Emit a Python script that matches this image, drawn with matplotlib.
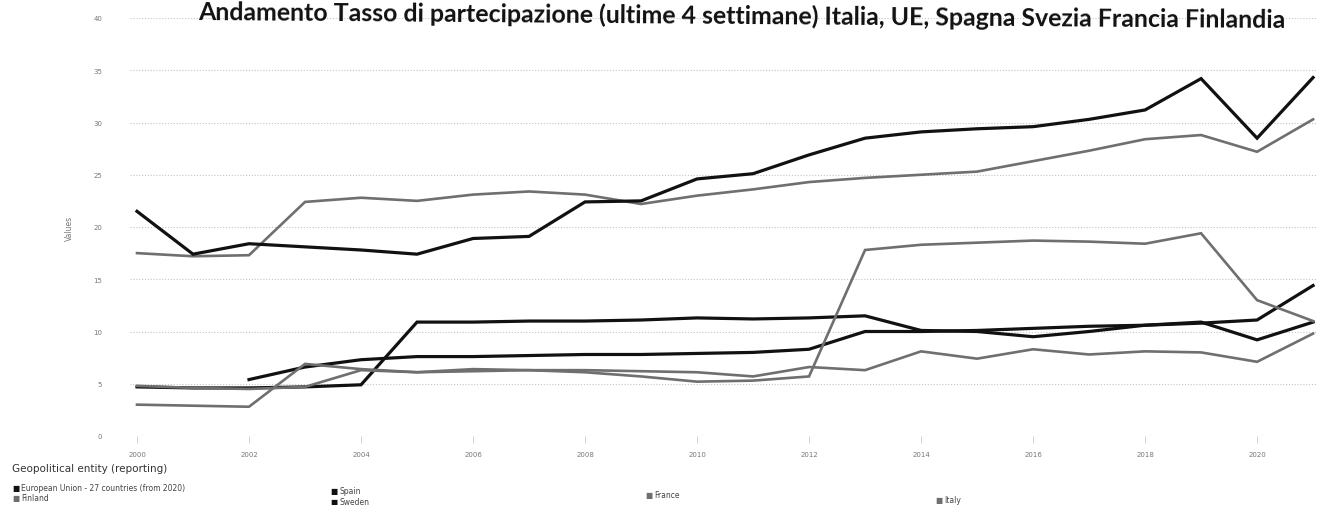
import matplotlib
matplotlib.use("Agg")
import matplotlib.pyplot as plt
import numpy as np

# Dati: tasso di partecipazione (ultime 4 settimane)
anni = list(range(2000, 2022))
ue = [np.nan, np.nan, 5.4, 6.6, 7.3, 7.6, 7.6, 7.7, 7.8, 7.8, 7.9, 8.0,
      8.3, 10.0, 10.0, 10.1, 10.3, 10.5, 10.6, 10.9, 9.2, 10.9]
finlandia = [17.5, 17.2, 17.3, 22.4, 22.8, 22.5, 23.1, 23.4, 23.1, 22.2, 23.0,
             23.6, 24.3, 24.7, 25.0, 25.3, 26.3, 27.3, 28.4, 28.8, 27.2, 30.3]
spagna = [4.7, 4.6, 4.6, 4.7, 4.9, 10.9, 10.9, 11.0, 11.0, 11.1, 11.3, 11.2,
          11.3, 11.5, 10.1, 10.0, 9.5, 10.0, 10.6, 10.8, 11.1, 14.4]
svezia = [21.5, 17.4, 18.4, 18.1, 17.8, 17.4, 18.9, 19.1, 22.4, 22.5, 24.6,
          25.1, 26.9, 28.5, 29.1, 29.4, 29.6, 30.3, 31.2, 34.2, 28.5, 34.3]
francia = [3.0, 2.9, 2.8, 6.9, 6.4, 6.1, 6.4, 6.3, 6.1, 5.7, 5.2, 5.3, 5.7,
           17.8, 18.3, 18.5, 18.7, 18.6, 18.4, 19.4, 13.0, 11.0]
italia = [4.8, 4.6, 4.5, 4.7, 6.3, 6.1, 6.2, 6.3, 6.3, 6.2, 6.1, 5.7, 6.6,
          6.3, 8.1, 7.4, 8.3, 7.8, 8.1, 8.0, 7.1, 9.8]

etichette = ["European Union - 27 countries (from 2020)", "Finland", "Spain",
             "Sweden", "France", "Italy"]
serie = [ue, finlandia, spagna, svezia, francia, italia]

titolo = ("Andamento Tasso di partecipazione (ultime 4 settimane) "
          "Italia, UE, Spagna Svezia Francia Finlandia")

nero = "#111111"
grigio = "#6f6f6f"
colori = [nero, grigio, nero, nero, grigio, grigio]
spessori = [2.3, 1.9, 2.3, 2.3, 1.9, 1.9]

W, H = 1317, 506
fig = plt.figure(figsize=(W / 100, H / 100), dpi=100)
ax = fig.add_axes([130 / W, (H - 437) / H, 1 - 130 / W, (437 - 19) / H])

for y, c, lw in zip(serie, colori, spessori):
    ax.plot(anni, y, color=c, lw=lw, solid_joinstyle="miter")

ax.set_xlim(1999.875, 2021.07)
ax.set_ylim(0, 40)
ax.set_yticks(range(0, 41, 5))
ax.set_xticks(range(2000, 2021, 2))
ax.grid(axis="y", color="#c4c4c4", lw=0.8, ls=(0, (1, 1.6)))
ax.tick_params(axis="y", length=0, labelsize=5, labelcolor="#777777", pad=20)
ax.tick_params(axis="x", length=5, color="#cccccc", width=0.6,
               labelsize=5, labelcolor="#777777", pad=6)
for s in ax.spines.values():
    s.set_visible(False)
ax.set_ylabel("Values", fontsize=5.5, color="#777777", labelpad=14)

# Titolo (scansione leggermente ruotata)
fig.text(198 / W, 1 - 20 / H, titolo, fontsize=17.9, fontweight="bold",
         family=["Lato", "DejaVu Sans"], ha="left", va="baseline",
         rotation=-0.42, rotation_mode="anchor", color="#111111")

# Legenda
fig.text(12 / W, 1 - 469 / H, "Geopolitical entity (reporting)", fontsize=7.5,
         color="#333333", va="center", ha="left")
leg_x = [12, 12, 330, 330, 645, 935]
leg_y = [489, 499, 492, 503, 496, 501]
for lab, c, lx, ly in zip(etichette, colori, leg_x, leg_y):
    fig.text(lx / W, 1 - ly / H, "■", fontsize=5.5, color=c,
             va="center", ha="left")
    fig.text((lx + 9) / W, 1 - ly / H, lab, fontsize=5.5, color="#444444",
             va="center", ha="left")

fig.savefig("out.png", dpi=100, facecolor="white")
